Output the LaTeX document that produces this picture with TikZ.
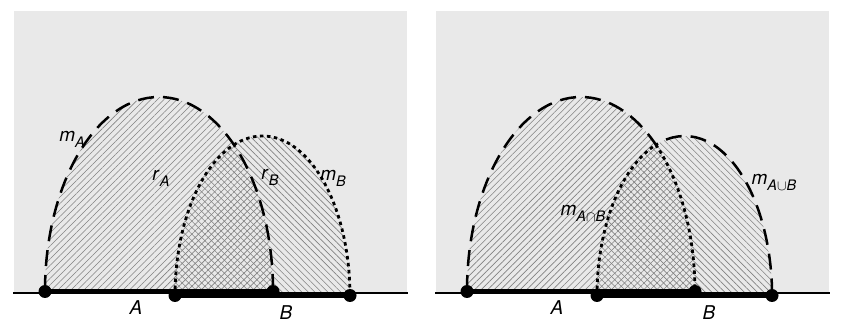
\documentclass[tikz,border=0pt]{standalone}
\usepackage{fontspec}
\setmainfont{TeX Gyre Heros}
\usepackage{tikz}
\usepackage{xcolor}
\usetikzlibrary{patterns.meta}

\definecolor{panelgray}{RGB}{233,233,233}
\definecolor{hatchgray}{RGB}{130,130,130}
\newcommand{\lbl}[2]{\textit{#1}\raisebox{-6pt}{\fontsize{14.5}{14.5}\selectfont\textit{#2}}}

\begin{document}
\begin{tikzpicture}[x=1pt, y=1pt,
    lab/.style={font=\fontsize{19}{22}\selectfont, inner sep=0pt},
    hatchA/.style={pattern={Lines[angle=45, distance=4.6pt, line width=0.6pt]}, pattern color=hatchgray},
    hatchB/.style={pattern={Lines[angle=-45, distance=4.6pt, line width=0.6pt]}, pattern color=hatchgray},
    longdash/.style={line width=2.5pt, dash pattern=on 16pt off 9pt},
    shortdash/.style={line width=2.8pt, dash pattern=on 3.5pt off 3.5pt},
    bar/.style={line width=4.5pt},
    dot/.style={circle, fill=black, inner sep=0pt, minimum size=13pt}]
    \useasboundingbox (0,0) rectangle (844,335);

    % left panel: the two sets
    \begin{scope}
        \fill[panelgray] (14,42) rectangle (407,324);
        \fill[hatchA] (45,44) arc[start angle=180, end angle=0, x radius=114, y radius=194] -- cycle;
        \fill[hatchB] (175,39) arc[start angle=180, end angle=0, x radius=87.5, y radius=160] -- cycle;
        \draw[longdash] (45,44) arc[start angle=180, end angle=0, x radius=114, y radius=194];
        \draw[shortdash] (175,39) arc[start angle=180, end angle=0, x radius=87.5, y radius=160];

        \coordinate (lL) at (13,42);
        \coordinate (lR) at (408,42);
        \draw[line width=2pt] (lL) -- (lR);
        \node[dot] (lA1) at (45,43.5) {};
        \node[dot] (lA2) at (273,43.5) {};
        \node[dot] (lB1) at (175,39.5) {};
        \node[dot] (lB2) at (350,39.5) {};
        \draw[bar] (lA1.center) -- (lA2.center);
        \draw[bar] (lB1.center) -- (lB2.center);

        \node[lab] (lmA) at (72,196) {\lbl{m}{A}};
        \node[lab] (lrA) at (161,157) {\lbl{r}{A}};
        \node[lab] (lrB) at (270,158) {\lbl{r}{B}};
        \node[lab] (lmB) at (333,157) {\lbl{m}{B}};
        \node[lab] (lsA) at (136,27.5) {\textit{A}};
        \node[lab] (lsB) at (286,22) {\textit{B}};
    \end{scope}

    % right panel: union and intersection
    \begin{scope}[xshift=422pt]
        \fill[panelgray] (14,42) rectangle (407,324);
        \fill[hatchA] (45,44) arc[start angle=180, end angle=0, x radius=114, y radius=194] -- cycle;
        \fill[hatchB] (175,39) arc[start angle=180, end angle=0, x radius=87.5, y radius=160] -- cycle;
        \draw[longdash] (45,44) arc[start angle=180, end angle=48.9, x radius=114, y radius=194]
            arc[start angle=109.1, end angle=0, x radius=87.5, y radius=160];
        \draw[shortdash] (175,39) arc[start angle=180, end angle=109.1, x radius=87.5, y radius=160]
            arc[start angle=48.9, end angle=0, x radius=114, y radius=194];

        \coordinate (rL) at (13,42);
        \coordinate (rR) at (408,42);
        \draw[line width=2pt] (rL) -- (rR);
        \node[dot] (rA1) at (45,43.5) {};
        \node[dot] (rA2) at (273,43.5) {};
        \node[dot] (rB1) at (175,39.5) {};
        \node[dot] (rB2) at (350,39.5) {};
        \draw[bar] (rA1.center) -- (rA2.center);
        \draw[bar] (rB1.center) -- (rB2.center);

        \node[lab] (rmU) at (352,153) {\lbl{m}{A$\cup$B}};
        \node[lab] (rmI) at (161,122) {\lbl{m}{A$\cap$B}};
        \node[lab] (rsA) at (135,27.5) {\textit{A}};
        \node[lab] (rsB) at (287,22) {\textit{B}};
    \end{scope}
\end{tikzpicture}
\end{document}
